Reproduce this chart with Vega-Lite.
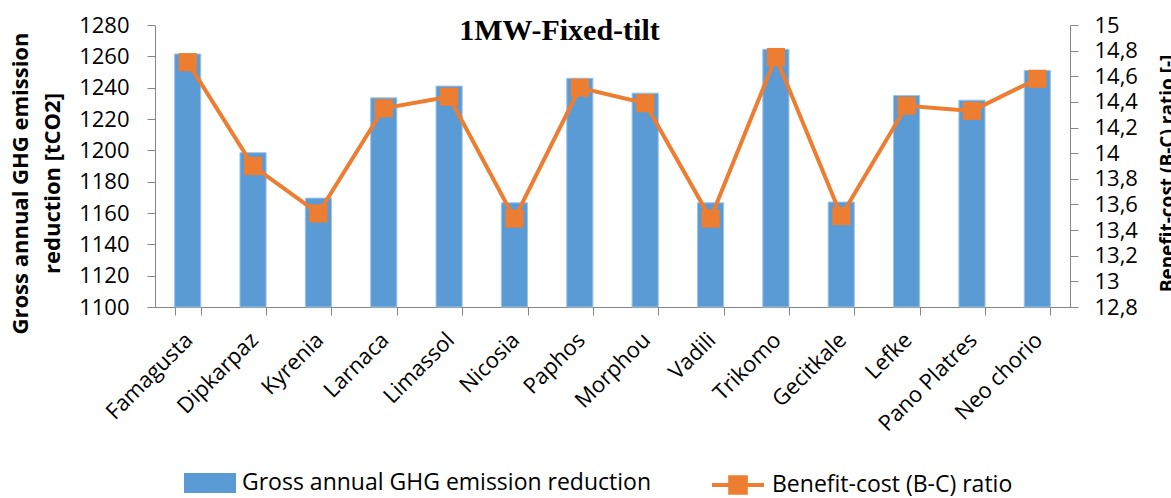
{
  "$schema": "https://vega.github.io/schema/vega-lite/v6.json",
  "width": 915,
  "height": 282,
  "autosize": {"type": "none"},
  "padding": {"left": 155, "top": 25, "right": 101, "bottom": 191},
  "background": "white",
  "title": {
    "text": "1MW-Fixed-tilt",
    "font": "Liberation Serif",
    "fontSize": 30,
    "fontWeight": "bold",
    "color": "black",
    "baseline": "alphabetic",
    "offset": 0,
    "dy": 56,
    "dx": -53
  },
  "config": {
    "view": {"stroke": null},
    "axis": {
      "domainColor": "#868686",
      "tickColor": "#868686",
      "tickSize": 8,
      "labelColor": "black",
      "labelFont": "Open Sans",
      "labelFontSize": 22,
      "titleFont": "Open Sans",
      "titleFontWeight": "bold",
      "titleFontSize": 22,
      "titleColor": "black",
      "grid": false
    },
    "legend": {
      "labelFont": "Open Sans",
      "labelFontSize": 23,
      "labelColor": "black",
      "labelOffset": 6,
      "labelLimit": 600,
      "symbolSize": 2704,
      "symbolOpacity": 1
    }
  },
  "data": {
    "values": [
      {"city": "Famagusta", "ghg": 1261.5, "bc": 14.71},
      {"city": "Dipkarpaz", "ghg": 1198.5, "bc": 13.90},
      {"city": "Kyrenia", "ghg": 1169.5, "bc": 13.53},
      {"city": "Larnaca", "ghg": 1233.5, "bc": 14.35},
      {"city": "Limassol", "ghg": 1241, "bc": 14.44},
      {"city": "Nicosia", "ghg": 1166.5, "bc": 13.49},
      {"city": "Paphos", "ghg": 1246, "bc": 14.51},
      {"city": "Morphou", "ghg": 1236.5, "bc": 14.39},
      {"city": "Vadili", "ghg": 1166.5, "bc": 13.49},
      {"city": "Trikomo", "ghg": 1264.5, "bc": 14.75},
      {"city": "Gecitkale", "ghg": 1167, "bc": 13.51},
      {"city": "Lefke", "ghg": 1235, "bc": 14.37},
      {"city": "Pano Platres", "ghg": 1232, "bc": 14.33},
      {"city": "Neo chorio", "ghg": 1251, "bc": 14.58}
    ]
  },
  "encoding": {
    "x": {
      "field": "city",
      "type": "nominal",
      "sort": null,
      "scale": {"paddingInner": 0.6, "paddingOuter": 0.3},
      "axis": {
        "title": null,
        "labelAngle": -45,
        "tickBand": "extent",
        "labelPadding": 14,
        "labelOffset": -6
      }
    }
  },
  "layer": [
    {
      "mark": {"type": "bar", "stroke": "#9DC3E6", "strokeWidth": 1},
      "encoding": {
        "y": {
          "field": "ghg",
          "type": "quantitative",
          "scale": {"domain": [1100, 1280], "nice": false, "zero": false},
          "axis": {
            "title": ["Gross annual GHG emission", "reduction [tCO2]"],
            "values": [1100, 1120, 1140, 1160, 1180, 1200, 1220, 1240, 1260, 1280],
            "format": "d",
            "labelPadding": 18,
            "titlePadding": 14,
            "titleLineHeight": 32,
            "titleY": 158
          }
        },
        "y2": {"datum": 1100},
        "fill": {
          "datum": "Gross annual GHG emission reduction",
          "type": "nominal",
          "scale": {"range": ["#5B9BD5"]},
          "legend": {
            "orient": "none",
            "legendX": 29,
            "legendY": 432,
            "title": null,
            "symbolType": "M-1,-0.38H1V0.38H-1Z",
            "symbolStrokeWidth": 0
          }
        }
      }
    },
    {
      "mark": {"type": "line", "strokeWidth": 4},
      "encoding": {
        "y": {
          "field": "bc",
          "type": "quantitative",
          "scale": {"domain": [12.8, 15], "nice": false, "zero": false},
          "axis": {
            "orient": "right",
            "title": "Benefit-cost (B-C) ratio [-]",
            "titleAngle": -90,
            "titleFontSize": 19,
            "titleY": 148,
            "values": [12.8, 13, 13.2, 13.4, 13.6, 13.8, 14, 14.2, 14.4, 14.6, 14.8, 15],
            "labelExpr": "datum.value % 1 == 0 ? format(datum.value, 'd') : replace(format(datum.value, '.1f'), '.', ',')",
            "labelPadding": 16,
            "titlePadding": 40
          }
        },
        "stroke": {
          "datum": "Benefit-cost (B-C) ratio",
          "type": "nominal",
          "scale": {"range": ["#ED7D31"]},
          "legend": {
            "orient": "none",
            "legendX": 555,
            "legendY": 432,
            "title": null,
            "symbolType": "M-1,0H1M-0.3,-0.3H0.3V0.3H-0.3Z",
            "symbolStrokeWidth": 4,
            "symbolFillColor": "#ED7D31"
          }
        }
      }
    },
    {
      "mark": {"type": "point", "shape": "square", "size": 330, "filled": true, "opacity": 1, "color": "#ED7D31"},
      "encoding": {
        "y": {"field": "bc", "type": "quantitative", "scale": {"domain": [12.8, 15], "nice": false, "zero": false}, "axis": null}
      }
    }
  ],
  "resolve": {"scale": {"y": "independent", "fill": "independent", "stroke": "independent"}}
}
